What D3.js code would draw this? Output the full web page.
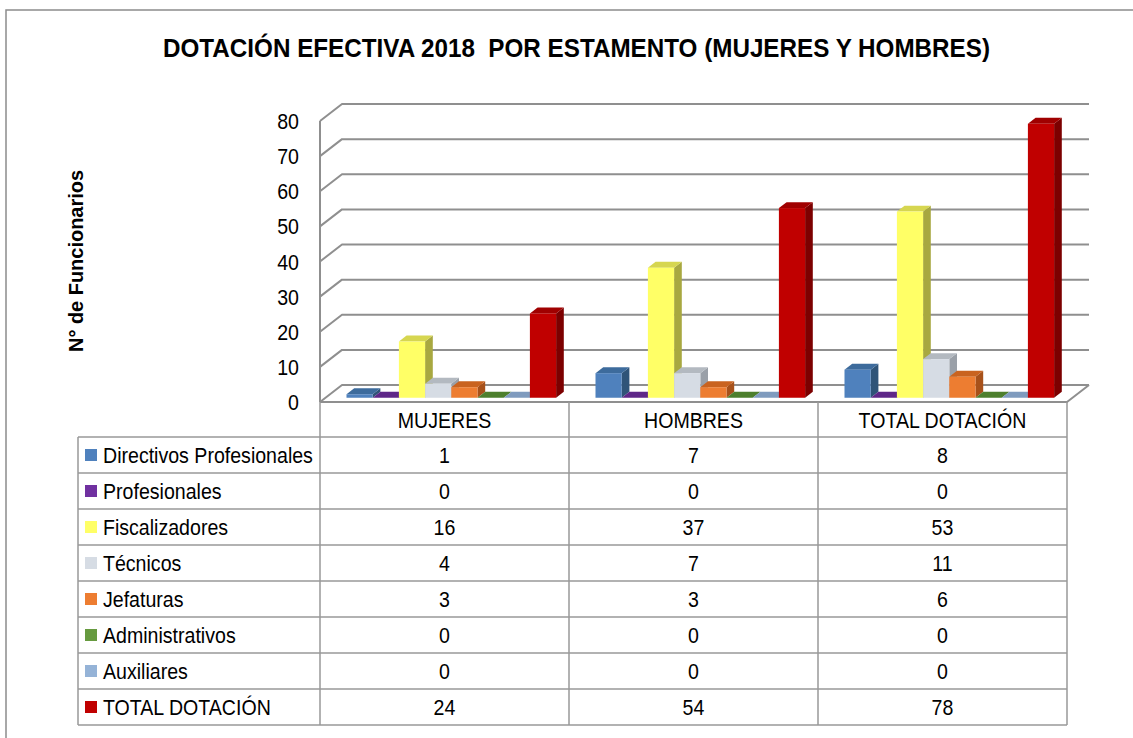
<!DOCTYPE html>
<html>
<head>
<meta charset="utf-8">
<script src="https://cdn.jsdelivr.net/npm/d3@7"></script>
<style>
  body { margin: 0; background: #fff; }
  svg { display: block; font-family: "Liberation Sans", Arial, sans-serif; }
</style>
</head>
<body>
<div id="chart"></div>
<script>
// data
const categories = ["MUJERES", "HOMBRES", "TOTAL DOTACIÓN"];
const seriesNames = ["Directivos Profesionales", "Profesionales", "Fiscalizadores", "Técnicos",
  "Jefaturas", "Administrativos", "Auxiliares", "TOTAL DOTACIÓN"];
const directivos = [1, 7, 8];
const profesionales = [0, 0, 0];
const fiscalizadores = [16, 37, 53];
const tecnicos = [4, 7, 11];
const jefaturas = [3, 3, 6];
const administrativos = [0, 0, 0];
const auxiliares = [0, 0, 0];
const totalDotacion = [24, 54, 78];
const yTicks = [0, 10, 20, 30, 40, 50, 60, 70, 80];

const seriesValues = [directivos, profesionales, fiscalizadores, tecnicos,
  jefaturas, administrativos, auxiliares, totalDotacion];

// front, top, side colours for each series
const colors = [
  ["#4f81bd", "#3d6b9c", "#2f5478"],
  ["#7030a0", "#5e2788", "#46196a"],
  ["#ffff66", "#d6d650", "#a8a840"],
  ["#d6dce4", "#b3b9c0", "#9aa0a8"],
  ["#ed7d31", "#c9631f", "#a7511a"],
  ["#5f9a3a", "#4d7f2d", "#3d6624"],
  ["#95b3d7", "#7f9bbe", "#6882a3"],
  ["#c00000", "#a00000", "#7c0000"]
];
const legendColors = ["#4f81bd", "#7030a0", "#ffff66", "#d6dce4", "#ed7d31", "#669a3f", "#95b3d7", "#c00000"];

// narrow text: Arial squeezed horizontally, like Arial Narrow
const sx = 0.89;
function place(sel, fx, fy) {
  return sel.attr("transform", (d, i) => `translate(${fx(d, i)}, ${fy(d, i)}) scale(${sx}, 1)`);
}

function drawChart() {
  const width = 1133, height = 738;

  // plot geometry
  const left = 320, right = 1067;
  const depthX = 22, depthY = -17;
  const f0 = 0.25, f1 = 0.6; // bar depth span inside the floor

  const svg = d3.select("#chart").append("svg")
      .attr("width", width)
      .attr("height", height);

  // outer frame
  svg.append("rect")
      .attr("x", 6).attr("y", 10)
      .attr("width", 1140).attr("height", 740)
      .attr("fill", "none")
      .attr("stroke", "#8c8c8c")
      .attr("stroke-width", 1.5);

  // title
  svg.append("text")
      .attr("x", 163).attr("y", 57)
      .attr("font-weight", "bold")
      .attr("font-size", 25)
      .attr("textLength", 827)
      .attr("lengthAdjust", "spacingAndGlyphs")
      .style("white-space", "pre")
      .text("DOTACIÓN EFECTIVA 2018  POR ESTAMENTO (MUJERES Y HOMBRES)");

  const x = d3.scaleBand().domain(categories).range([left, right]).padding(0);
  const xs = d3.scaleBand().domain(seriesNames).range([21, 21 + 8 * 26.2]).padding(0);
  const y = d3.scaleLinear().domain([0, 80]).range([402, 121]);

  // walls + gridlines
  const grid = svg.append("g")
      .attr("fill", "none")
      .attr("stroke", "#8f8f8f")
      .attr("stroke-width", 2)
      .attr("stroke-linejoin", "round");

  grid.selectAll("path.grid")
    .data(yTicks)
    .join("path")
      .attr("class", "grid")
      .attr("d", t => `M${left},${y(t)} L${left + depthX},${y(t) + depthY} L${right + depthX},${y(t) + depthY}`);

  // left vertical axis
  grid.append("line")
      .attr("x1", left).attr("x2", left)
      .attr("y1", y(80)).attr("y2", y(0));

  // floor front edge and right side
  grid.append("path")
      .attr("d", `M${left},${y(0)} L${right},${y(0)} L${right + depthX},${y(0) + depthY}`);

  // y tick labels
  svg.append("g")
      .attr("font-size", 22)
      .attr("text-anchor", "end")
    .selectAll("text")
    .data(yTicks)
    .join("text")
      .call(place, () => 299, d => y(d) + 8)
      .text(d => d);

  // y axis label
  svg.append("text")
      .attr("transform", "translate(83, 261) rotate(-90)")
      .attr("text-anchor", "middle")
      .attr("font-weight", "bold")
      .attr("font-size", 21)
      .attr("textLength", 182)
      .attr("lengthAdjust", "spacingAndGlyphs")
      .text("N° de Funcionarios");

  // 3d bars
  const bars = [];
  categories.forEach((c, ci) => {
    seriesNames.forEach((s, si) => {
      bars.push({cat: c, series: s, si: si, value: seriesValues[si][ci]});
    });
  });

  const dx = depthX * (f1 - f0), dy = depthY * (f1 - f0);
  const barW = xs.bandwidth();

  const barG = svg.append("g")
    .selectAll("g")
    .data(bars)
    .join("g");

  const geom = d => {
    const x0 = x(d.cat) + xs(d.series) + depthX * f0;
    const yb = y(0) + depthY * f0;
    const yt = y(d.value) + depthY * f0;
    return {x0, yb, yt};
  };

  // side face
  barG.append("path")
      .attr("fill", d => colors[d.si][2])
      .attr("d", d => {
        const g = geom(d);
        return `M${g.x0 + barW},${g.yt} L${g.x0 + barW + dx},${g.yt + dy} L${g.x0 + barW + dx},${g.yb + dy} L${g.x0 + barW},${g.yb}Z`;
      });

  // top face
  barG.append("path")
      .attr("fill", d => colors[d.si][1])
      .attr("d", d => {
        const g = geom(d);
        return `M${g.x0},${g.yt} L${g.x0 + barW},${g.yt} L${g.x0 + barW + dx},${g.yt + dy} L${g.x0 + dx},${g.yt + dy}Z`;
      });

  // front face
  barG.filter(d => d.value > 0).append("rect")
      .attr("fill", d => colors[d.si][0])
      .attr("x", d => geom(d).x0)
      .attr("y", d => geom(d).yt)
      .attr("width", barW)
      .attr("height", d => geom(d).yb - geom(d).yt);

  // data table
  const tableTop = 402, headH = 35, rowH = 36;
  const tableLeft = 78;
  const rowsTop = tableTop + headH;
  const tableBottom = rowsTop + rowH * seriesNames.length;

  const table = svg.append("g");
  const lines = table.append("g")
      .attr("stroke", "#999")
      .attr("stroke-width", 1.5)
      .attr("fill", "none");

  // horizontal lines
  d3.range(seriesNames.length + 1).forEach(i => {
    lines.append("line")
        .attr("x1", tableLeft).attr("x2", right)
        .attr("y1", rowsTop + i * rowH).attr("y2", rowsTop + i * rowH);
  });
  // vertical lines
  lines.append("line")
      .attr("x1", tableLeft).attr("x2", tableLeft)
      .attr("y1", rowsTop).attr("y2", tableBottom);
  categories.forEach(c => {
    lines.append("line")
        .attr("x1", x(c)).attr("x2", x(c))
        .attr("y1", tableTop).attr("y2", tableBottom);
  });
  lines.append("line")
      .attr("x1", right).attr("x2", right)
      .attr("y1", tableTop).attr("y2", tableBottom);

  // category header
  table.append("g")
      .attr("font-size", 22)
      .attr("text-anchor", "middle")
    .selectAll("text")
    .data(categories)
    .join("text")
      .call(place, d => x(d) + x.bandwidth() / 2, () => tableTop + headH / 2 + 8)
      .text(d => d);

  // legend rows
  const rows = table.selectAll("g.row")
    .data(seriesNames)
    .join("g")
      .attr("class", "row")
      .attr("transform", (d, i) => `translate(0, ${rowsTop + i * rowH + rowH / 2})`);

  rows.append("rect")
      .attr("x", 85).attr("y", -6)
      .attr("width", 12).attr("height", 12)
      .attr("fill", (d, i) => legendColors[i]);

  rows.append("text")
      .attr("font-size", 22)
      .call(place, () => 103, () => 8)
      .text(d => d);

  rows.selectAll("text.val")
    .data((d, i) => seriesValues[i].map((v, ci) => ({v, cat: categories[ci]})))
    .join("text")
      .attr("class", "val")
      .attr("font-size", 22)
      .attr("text-anchor", "middle")
      .call(place, d => x(d.cat) + x.bandwidth() / 2, () => 8)
      .text(d => d.v);
}

window.onload = drawChart;
</script>
</body>
</html>
